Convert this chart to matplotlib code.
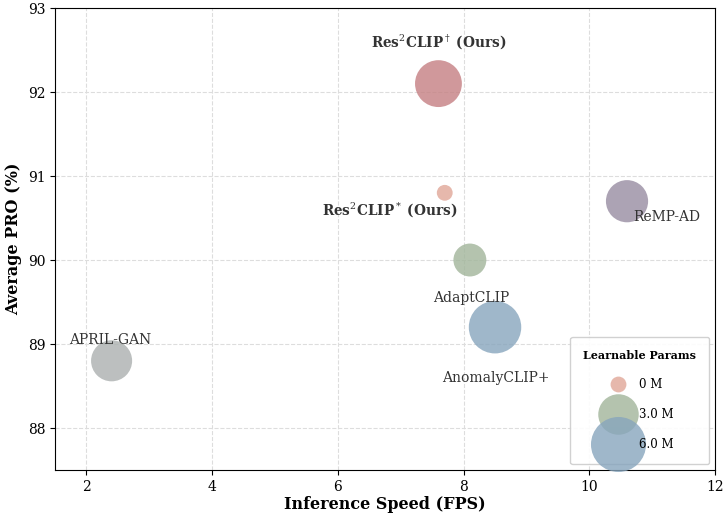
import matplotlib
matplotlib.use("Agg")
import matplotlib.pyplot as plt
from matplotlib.lines import Line2D

plt.rcParams['font.family'] = 'DejaVu Serif'
plt.rcParams['mathtext.fontset'] = 'dejavuserif'

methods = ['Res$^2$CLIP$^\\dagger$ (Ours)', 'Res$^2$CLIP$^*$ (Ours)', 'ReMP-AD',
           'AdaptCLIP', 'AnomalyCLIP+', 'APRIL-GAN']
fps = [7.6, 7.7, 10.6, 8.1, 8.5, 2.4]
pro = [92.1, 90.8, 90.7, 90.0, 89.2, 88.8]
params = [4.2, 0.0, 3.3, 1.8, 5.4, 3.1]
colors = ['#c57f82', '#e0a698', '#988ca2', '#a1b59a', '#87a5bd', '#abb0af']
ours = [True, True, False, False, False, False]

# label positions (data coords)
label_xy = [(7.6, 92.6), (6.82, 90.6), (11.23, 90.51), (8.12, 89.55), (8.52, 88.6), (2.38, 89.05)]

legend_params = [0, 3.0, 6.0]
legend_colors = ['#e0a698', '#a1b59a', '#87a5bd']


def bubble(p):
    return 130 + 240 * p


fig, ax = plt.subplots(figsize=(7.24, 5.14), dpi=100)
fig.subplots_adjust(left=0.076, right=0.9876, top=0.9844, bottom=0.0856)

ax.grid(True, linestyle='--', color='#dddddd', linewidth=0.8)
ax.set_axisbelow(True)

for x, y, p, c in zip(fps, pro, params, colors):
    ax.scatter(x, y, s=bubble(p), color=c, alpha=0.8, edgecolors='none', zorder=3)

for name, (lx, ly), o in zip(methods, label_xy, ours):
    ax.text(lx, ly, name, ha='center', va='center', fontsize=9.8 if o else 10,
            fontweight='bold' if o else 'normal', color='#333333', zorder=4)

ax.set_xlim(1.5, 12)
ax.set_ylim(87.5, 93)
ax.set_xticks([2, 4, 6, 8, 10, 12])
ax.set_yticks([88, 89, 90, 91, 92, 93])
ax.tick_params(labelsize=10)
ax.set_xlabel('Inference Speed (FPS)', fontsize=11.5, fontweight='bold', labelpad=1.5)
ax.set_ylabel('Average PRO (%)', fontsize=11.5, fontweight='bold')

handles = [Line2D([], [], marker='o', linestyle='none', markersize=bubble(p) ** 0.5,
                  markerfacecolor=c, markeredgecolor='none', alpha=0.8)
           for p, c in zip(legend_params, legend_colors)]
labels = ['0 M' if p == 0 else f'{p:.1f} M' for p in legend_params]
leg = ax.legend(handles, labels, title='Learnable Params', loc='lower right',
                fontsize=8.5, labelspacing=1.45, borderpad=1.1, handletextpad=0.8,
                framealpha=0.9, edgecolor='#cccccc')
leg.get_title().set_fontweight('bold')
leg.get_title().set_fontsize(8)

fig.savefig('out.png', dpi=100)
